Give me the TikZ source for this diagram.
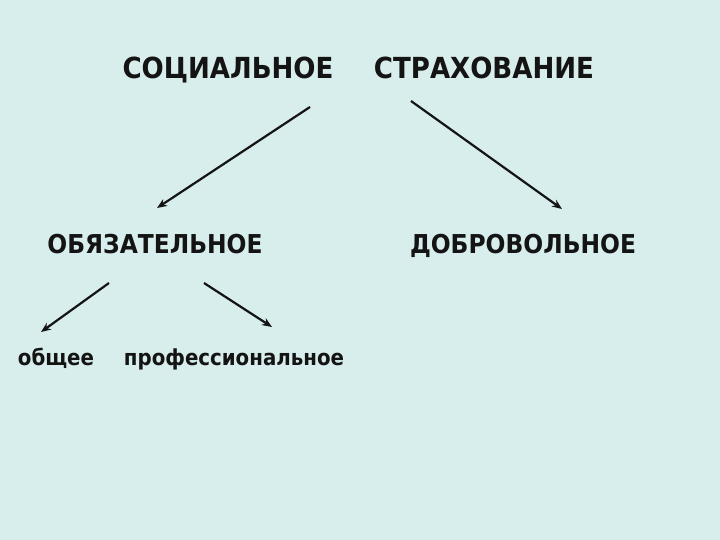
\documentclass[tikz,border=0pt]{standalone}
\usepackage{fontspec}
\setmainfont{DejaVu Sans Condensed}
\usetikzlibrary{arrows.meta}
\definecolor{bg}{RGB}{216,238,236}
\definecolor{ink}{RGB}{20,20,20}
\tikzset{
  title/.style={anchor=base,inner sep=0pt,text=ink,font=\bfseries\fontsize{29}{32}\selectfont},
  sub/.style={anchor=base,inner sep=0pt,text=ink,font=\bfseries\fontsize{26}{28}\selectfont},
  low/.style={anchor=base,inner sep=0pt,text=ink,font=\bfseries\fontsize{22}{26}\selectfont},
  arr/.style={draw=ink,line width=2.2pt,-{Stealth[length=10pt,width=8pt]}}
}
\begin{document}
\begin{tikzpicture}[x=1pt,y=-1pt]
\fill[bg] (0,0) rectangle (720,540);
\useasboundingbox (0,0) rectangle (720,540);
\node[title] (t1) at (228,79) {СОЦИАЛЬНОЕ};
\node[title] (t2) at (484,79) {СТРАХОВАНИЕ};
\node[sub] (ob) at (155,253) {ОБЯЗАТЕЛЬНОЕ};
\node[sub] (dob) at (523,253) {ДОБРОВОЛЬНОЕ};
\node[low] (ob1) at (56,365) {общее};
\node[low] (ob2) at (234,365) {профессиональное};
\coordinate (a1s) at (310,107);
\coordinate (a1e) at (157,208);
\coordinate (a2s) at (411,101);
\coordinate (a2e) at (562,209);
\coordinate (a3s) at (109,283);
\coordinate (a3e) at (41,332);
\coordinate (a4s) at (204,283);
\coordinate (a4e) at (272,327);
\draw[arr] (a1s) -- (a1e);
\draw[arr] (a2s) -- (a2e);
\draw[arr] (a3s) -- (a3e);
\draw[arr] (a4s) -- (a4e);
\end{tikzpicture}
\end{document}
